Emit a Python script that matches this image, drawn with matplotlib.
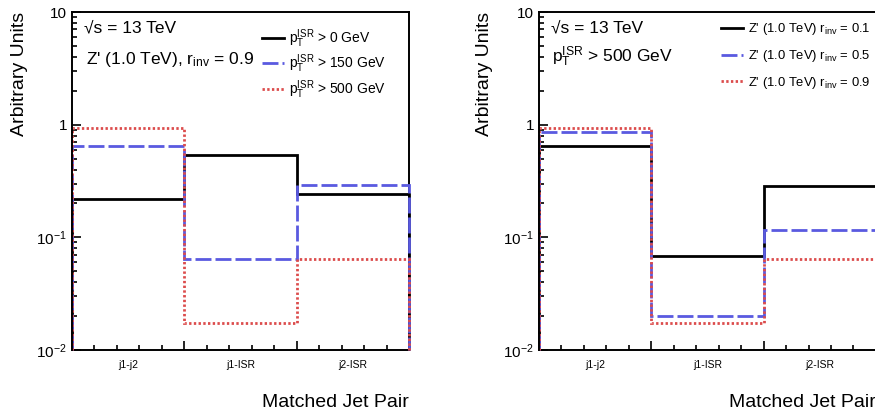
import numpy as np
import matplotlib
matplotlib.use("Agg")
import matplotlib.pyplot as plt
from matplotlib.ticker import FixedLocator, LogLocator, NullFormatter, FixedFormatter

plt.rcParams["font.family"] = ["Liberation Sans", "DejaVu Sans"]
plt.rcParams["mathtext.fontset"] = "custom"
plt.rcParams["mathtext.rm"] = "Liberation Sans"
plt.rcParams["mathtext.it"] = "Liberation Sans:italic"
plt.rcParams["mathtext.bf"] = "Liberation Sans:bold"

# Jet-pair categories (one histogram bin each)
categories = ["j1-j2", "j1-ISR", "j2-ISR"]

# Left: Z' (1.0 TeV), r_inv = 0.9 for several ISR pT thresholds
left_labels = [r"$\mathrm{p}_{\mathrm{T}}^{\mathrm{ISR}}$ > 0 GeV",
               r"$\mathrm{p}_{\mathrm{T}}^{\mathrm{ISR}}$ > 150 GeV",
               r"$\mathrm{p}_{\mathrm{T}}^{\mathrm{ISR}}$ > 500 GeV"]
left_pt0 = [0.217, 0.54, 0.243]
left_pt150 = [0.65, 0.064, 0.294]
left_pt500 = [0.93, 0.0172, 0.064]

# Right: pT(ISR) > 500 GeV for several r_inv values
right_labels = [r"Z' (1.0 TeV) r$_{\mathrm{inv}}$ = 0.1",
                r"Z' (1.0 TeV) r$_{\mathrm{inv}}$ = 0.5",
                r"Z' (1.0 TeV) r$_{\mathrm{inv}}$ = 0.9"]
right_rinv01 = [0.65, 0.068, 0.284]
right_rinv05 = [0.867, 0.0202, 0.117]
right_rinv09 = [0.93, 0.0172, 0.064]

ytick_values = [0.01, 0.1, 1, 10]
ytick_labels = [r"10$^{-2}$", r"10$^{-1}$", "1", "10"]

colors = ["black", "#5a5ae0", "#dc4c4c"]
LW = 2.0
styles = ["-", (0, (11.5 / LW, 2.9 / LW)), (0, (1.7 / LW, 1.7 / LW))]

fig = plt.figure(figsize=(8.75, 4.11), dpi=100)
ax_l = fig.add_axes([0.0823, 0.1484, 0.3851, 0.8224])
ax_r = fig.add_axes([0.6160, 0.1484, 0.3851, 0.8224])

edges = np.arange(len(categories) + 1)
centers = edges[:-1] + 0.5


def style_axes(ax):
    ax.set_yscale("log")
    ax.set_ylim(ytick_values[0], ytick_values[-1])
    ax.set_xlim(edges[0], edges[-1])
    for sp in ax.spines.values():
        sp.set_linewidth(1.4)
    # left frame line sits on top of the histogram outlines
    ax.spines["left"].set_zorder(4)
    ax.yaxis.set_major_locator(FixedLocator(ytick_values))
    ax.yaxis.set_major_formatter(FixedFormatter(ytick_labels))
    ax.yaxis.set_minor_locator(LogLocator(base=10, subs=np.arange(2, 10)))
    ax.yaxis.set_minor_formatter(NullFormatter())
    ax.xaxis.set_major_locator(FixedLocator(edges))
    minor = [e + f for e in edges[:-1] for f in (0.2, 0.4, 0.6, 0.8)]
    ax.xaxis.set_minor_locator(FixedLocator(minor))
    ax.xaxis.set_major_formatter(NullFormatter())
    ax.tick_params(which="both", direction="in", top=False, right=False,
                   width=1.2, labelsize=11, pad=3.5)
    ax.tick_params(which="major", length=6.5)
    ax.tick_params(which="minor", length=3.6)
    sec = ax.secondary_xaxis("bottom")
    sec.set_xticks(centers, categories)
    sec.tick_params(length=0, labelsize=7.5, pad=7.5)
    sec.spines["bottom"].set_visible(False)
    ax.text(1.0, -0.169, "Matched Jet Pair", transform=ax.transAxes,
            ha="right", va="baseline", fontsize=14)


def draw_hists(ax, series, labels):
    for vals, c, ls, lab in zip(series, colors, styles, labels):
        ax.stairs(vals, edges, baseline=ytick_values[0], color=c,
                  linestyle=ls, linewidth=LW, label=lab, zorder=3,
                  clip_on=False)


style_axes(ax_l)
style_axes(ax_r)

draw_hists(ax_l, [left_pt0, left_pt150, left_pt500], left_labels)
draw_hists(ax_r, [right_rinv01, right_rinv05, right_rinv09], right_labels)

for ax, xl in ((ax_l, -0.157), (ax_r, -0.163)):
    ax.text(xl, 1.0, "Arbitrary Units", transform=ax.transAxes, rotation=90,
            ha="center", va="top", fontsize=14)
    ax.text(0.036, 0.938, "\u221as = 13 TeV", transform=ax.transAxes,
            ha="left", va="baseline", fontsize=12.5)

ax_l.text(0.042, 0.847, r"Z' (1.0 TeV), r$_{\mathrm{inv}}$ = 0.9",
          transform=ax_l.transAxes, ha="left", va="baseline", fontsize=12.5)
ax_r.text(0.038, 0.853, r"$\mathrm{p}_{\mathrm{T}}^{\mathrm{ISR}}$ > 500 GeV",
          transform=ax_r.transAxes, ha="left", va="baseline", fontsize=12.5)

ax_l.legend(loc="upper left", bbox_to_anchor=(0.563, 0.955), frameon=False,
            fontsize=10, handlelength=1.6, handletextpad=0.35, labelspacing=0.2,
            borderpad=0, borderaxespad=0)
ax_r.legend(loc="upper left", bbox_to_anchor=(0.540, 0.973), frameon=False,
            fontsize=9.4, handlelength=1.7, handletextpad=0.38, labelspacing=0.84,
            borderpad=0, borderaxespad=0)

fig.savefig("out.png", dpi=100)
